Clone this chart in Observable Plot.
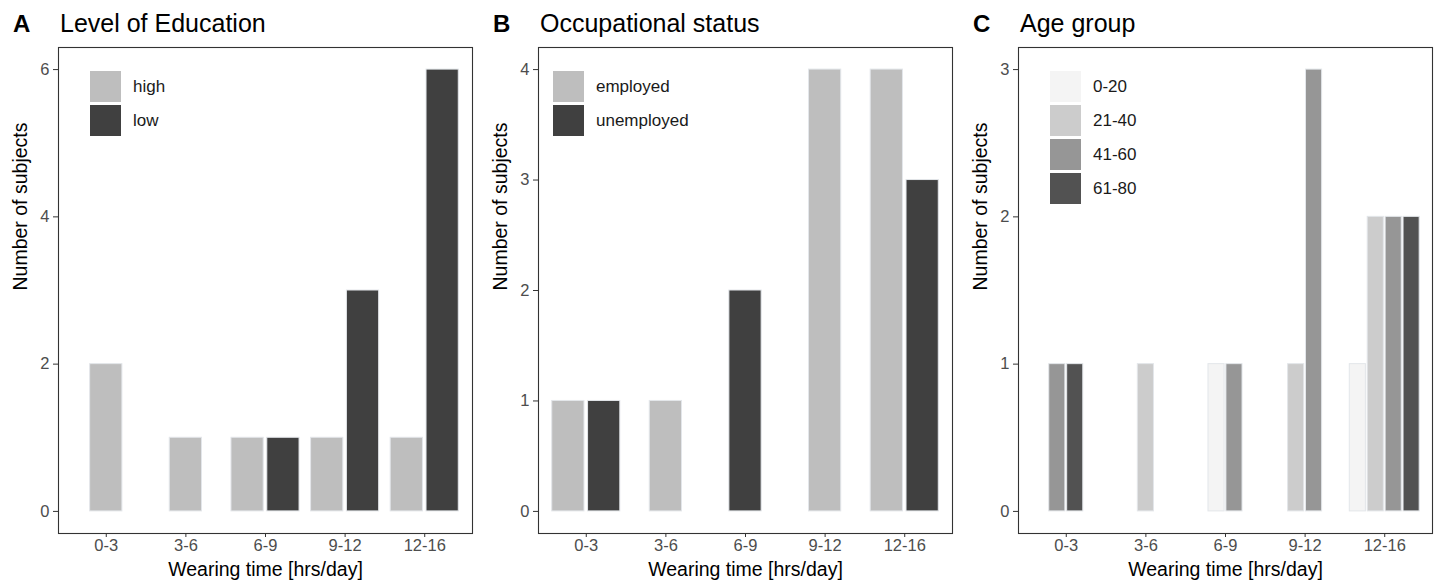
<!DOCTYPE html>
<html><head><meta charset="utf-8">
<script src="https://cdn.jsdelivr.net/npm/d3@7"></script>
<script src="https://cdn.jsdelivr.net/npm/@observablehq/plot@0.6"></script>
<style>
body{margin:0;background:#fff;font-family:"Liberation Sans",Arial,Helvetica,sans-serif;}
#wrap{position:relative;width:1434px;height:588px;overflow:hidden;background:#fff;}
.panel{position:absolute;top:0;width:474px;height:588px;}
.tag{position:absolute;left:13px;top:10px;font-size:24px;font-weight:bold;line-height:28px;color:#000;}
.title{position:absolute;left:60px;top:9px;font-size:25px;line-height:28px;color:#000;}
.plot{position:absolute;left:0;top:40px;}
.key{position:absolute;width:31px;height:31px;}
.lab{position:absolute;font-size:17px;line-height:31px;color:#1a1a1a;white-space:nowrap;}
</style></head><body><div id="wrap"></div>
<script>
const timeBins = ["0-3","3-6","6-9","9-12","12-16"];

const eduGroups = ["high","low"];
const eduHigh = [2,1,1,1,1];
const eduLow  = [0,0,1,3,6];

const occGroups = ["employed","unemployed"];
const occEmployed   = [1,1,0,4,4];
const occUnemployed = [1,0,2,0,3];

const ageGroups = ["0-20","21-40","41-60","61-80"];
const age0to20  = [0,0,1,0,1];
const age21to40 = [0,1,0,1,2];
const age41to60 = [1,0,1,3,2];
const age61to80 = [1,0,0,0,2];

const eduTicks = [0,2,4,6];
const occTicks = [0,1,2,3,4];
const ageTicks = [0,1,2,3];

const greys2 = ["#bebebe","#404040"];
const greys4 = ["#f4f4f4","#cccccc","#969696","#525252"];

const panels = [
  {tag:"A", title:"Level of Education", groups:eduGroups, series:[eduHigh,eduLow], colors:greys2, ticks:eduTicks, left:0, legendX:90},
  {tag:"B", title:"Occupational status", groups:occGroups, series:[occEmployed,occUnemployed], colors:greys2, ticks:occTicks, left:480, legendX:73},
  {tag:"C", title:"Age group", groups:ageGroups, series:[age0to20,age21to40,age41to60,age61to80], colors:greys4, ticks:ageTicks, left:960, legendX:90}
];

function dodgeRows(p){
  const slot = 0.9 / p.groups.length;
  const rows = [];
  timeBins.forEach((bin, i) => {
    const present = p.groups.map((g, k) => k).filter(k => p.series[k][i] > 0);
    present.forEach((k, j) => {
      const start = (i + 1) - present.length * slot / 2 + j * slot;
      rows.push({bin, group: p.groups[k], value: p.series[k][i],
                 x1: start + slot * 0.05, x2: start + slot * 0.95});
    });
  });
  return rows;
}

const binPos = timeBins.map((b, i) => i + 1);

const wrap = document.getElementById("wrap");
panels.forEach(p => {
  const div = document.createElement("div");
  div.className = "panel";
  div.style.left = p.left + "px";
  const tag = document.createElement("div"); tag.className = "tag"; tag.textContent = p.tag; div.appendChild(tag);
  const title = document.createElement("div"); title.className = "title"; title.textContent = p.title; div.appendChild(title);

  const yMax = d3.max(p.ticks);
  const pad = yMax * 0.05;
  const rows = dodgeRows(p);
  const chart = Plot.plot({
    width: 474, height: 548,
    marginTop: 7, marginBottom: 55, marginLeft: 58, marginRight: 2,
    style: {fontFamily: '"Liberation Sans", Arial, sans-serif', background: "#fff"},
    x: {type: "linear", domain: [0.4, 5.6]},
    y: {domain: [-pad, yMax + pad]},
    color: {domain: p.groups, range: p.colors},
    marks: [
      Plot.rect(rows, {x1: "x1", x2: "x2", y1: 0, y2: "value", fill: "group", stroke: "#e3e6ea", strokeWidth: 1}),
      Plot.frame({stroke: "#333", strokeWidth: 1.1}),
      Plot.axisY(p.ticks, {tickSize: 5, stroke: "#333", label: null, tickFormat: () => ""}),
      Plot.axisX(binPos, {tickSize: 4, stroke: "#333", label: null, tickFormat: () => ""}),
      Plot.text(p.ticks, {y: d => d, text: d => String(d), frameAnchor: "left", dx: -9, textAnchor: "end", fontSize: 16.5, fill: "#4d4d4d"}),
      Plot.text(binPos, {x: d => d, text: d => timeBins[d - 1], frameAnchor: "bottom", dy: 17, fontSize: 16.5, fill: "#4d4d4d"}),
      Plot.text(["Number of subjects"], {frameAnchor: "left", rotate: -90, dx: -38, fontSize: 19.5, fill: "#000"}),
      Plot.text(["Wearing time [hrs/day]"], {frameAnchor: "bottom", dy: 42, fontSize: 19.5, fill: "#000"})
    ]
  });
  const holder = document.createElement("div"); holder.className = "plot"; holder.appendChild(chart); div.appendChild(holder);

  p.groups.forEach((g, k) => {
    const key = document.createElement("div"); key.className = "key";
    key.style.left = p.legendX + "px"; key.style.top = (71 + k * 34) + "px";
    key.style.background = p.colors[k];
    div.appendChild(key);
    const lab = document.createElement("div"); lab.className = "lab";
    lab.style.left = (p.legendX + 43) + "px"; lab.style.top = (71 + k * 34) + "px";
    lab.textContent = g;
    div.appendChild(lab);
  });
  wrap.appendChild(div);
});
</script></body></html>
